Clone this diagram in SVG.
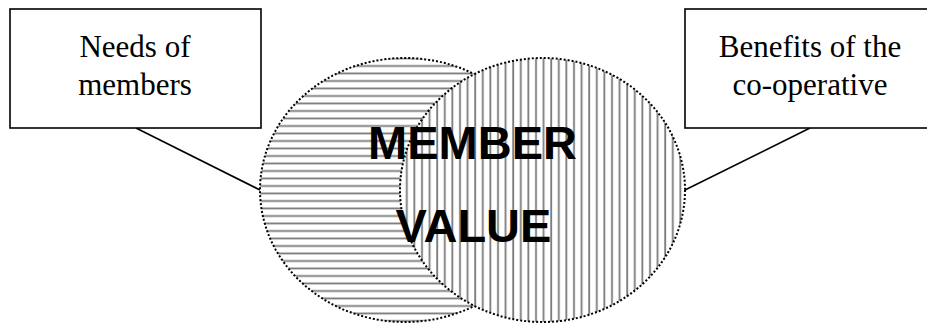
<svg xmlns="http://www.w3.org/2000/svg" width="927" height="325" viewBox="0 0 927 325">
  <style>
    .box { fill: #ffffff; stroke: #000000; stroke-width: 1.6; }
    .label { font-family: "Liberation Serif", "DejaVu Serif", serif; font-size: 31px; fill: #000000; text-anchor: middle; }
    .big { font-family: "Liberation Sans", Arial, sans-serif; font-weight: bold; font-size: 47px; fill: #000000; text-anchor: middle; }
    .outline { stroke: #000000; stroke-width: 2; stroke-dasharray: 2 2; }
    .conn { stroke: #000000; stroke-width: 1.6; fill: none; }
  </style>
  <defs>
    <pattern id="hatchH" patternUnits="userSpaceOnUse" x="0" y="0" width="7.5" height="7.5">
      <rect width="7.5" height="7.5" fill="#ffffff"/>
      <line x1="0" y1="6" x2="7.5" y2="6" stroke="#7a7a7a" stroke-width="1.8"/>
    </pattern>
    <pattern id="hatchV" patternUnits="userSpaceOnUse" x="0" y="0" width="7.6" height="7.6">
      <rect width="7.6" height="7.6" fill="#ffffff"/>
      <line x1="4" y1="0" x2="4" y2="7.6" stroke="#7a7a7a" stroke-width="1.8"/>
    </pattern>
  </defs>

  <g id="connectors">
    <line class="conn" x1="136" y1="128" x2="260" y2="190"/>
    <line class="conn" x1="685" y1="190" x2="810" y2="128"/>
  </g>

  <g id="needs-of-members">
    <rect class="box" x="10" y="9" width="251" height="119"/>
    <text class="label" x="135" y="57">Needs of</text>
    <text class="label" x="135" y="95">members</text>
  </g>

  <g id="benefits-of-cooperative">
    <rect class="box" x="685" y="9" width="243" height="119"/>
    <text class="label" x="810" y="57">Benefits of the</text>
    <text class="label" x="810" y="95">co-operative</text>
  </g>

  <g id="needs-circle">
    <ellipse class="outline" cx="405" cy="190" rx="145" ry="132" fill="url(#hatchH)"/>
  </g>

  <g id="benefits-circle">
    <ellipse class="outline" cx="542.5" cy="190" rx="142.5" ry="132" fill="url(#hatchV)"/>
  </g>

  <g id="member-value">
    <text class="big" x="472.5" y="159">MEMBER</text>
    <text class="big" x="473.5" y="242">VALUE</text>
  </g>
</svg>
